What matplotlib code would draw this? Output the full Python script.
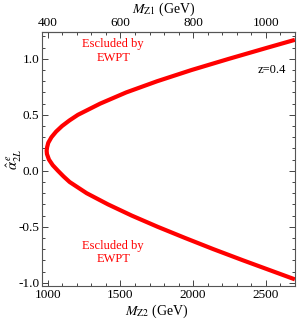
import matplotlib
matplotlib.use("Agg")
import matplotlib.pyplot as plt
from matplotlib.ticker import MultipleLocator, FormatStrFormatter

# data
z = 0.4
alpha_vals = [1.17, 1.10, 1.00, 0.90, 0.80, 0.70, 0.60, 0.50, 0.45, 0.40, 0.35,
              0.30, 0.25, 0.21, 0.18, 0.15, 0.10, 0.05, 0.00, -0.05, -0.10,
              -0.20, -0.30, -0.40, -0.50, -0.60, -0.70, -0.80, -0.90, -0.97]
mz2_vals = [2700, 2511, 2245, 1988, 1752, 1539, 1360, 1207, 1149, 1098, 1057,
            1025, 1003, 995, 992, 994, 1008, 1034, 1070, 1108, 1150,
            1267, 1414, 1577, 1755, 1944, 2139, 2343, 2553, 2700]
ytick_vals = [-1.0, -0.5, 0.0, 0.5, 1.0]
xtick_vals = [1000, 1500, 2000, 2500]
top_tick_vals = [400, 600, 800, 1000]

plt.rcParams['font.family'] = ['Liberation Serif', 'DejaVu Serif']
plt.rcParams['mathtext.fontset'] = 'stix'

fig = plt.figure(figsize=(3.0, 3.2), dpi=100)
ax = fig.add_axes([0.14, 0.106, 0.843, 0.794])

ax.plot(mz2_vals, alpha_vals, color='#ff0000', lw=3.0, solid_capstyle='butt',
        solid_joinstyle='round')

ax.set_xlim(960, 2700)
ax.set_ylim(-1.03, 1.24)
ax.set_xticks(xtick_vals)
ax.set_yticks(ytick_vals)
ax.yaxis.set_major_formatter(FormatStrFormatter('%.1f'))
ax.xaxis.set_minor_locator(MultipleLocator(100))
ax.yaxis.set_minor_locator(MultipleLocator(0.1))
ax.tick_params(which='both', direction='in', top=False, right=True,
               labelsize=9.5, color='#444444', width=0.7)
ax.tick_params(which='major', length=4.5, pad=2)
ax.tick_params(which='minor', length=2.5)
for s in ax.spines.values():
    s.set_color('#555555')
    s.set_linewidth(0.8)

sec = ax.secondary_xaxis('top', functions=(lambda x: x * z, lambda x: x / z))
sec.set_xticks(top_tick_vals)
sec.xaxis.set_minor_locator(MultipleLocator(40))
sec.tick_params(which='both', direction='in', labelsize=9.5, color='#444444', width=0.7, pad=2)
sec.tick_params(which='major', length=4.5)
sec.tick_params(which='minor', length=2.5)
sec.spines['top'].set_color('#555555')
fig.text(164 / 300, 1 - 9 / 320, r'$M_{\mathrm{Z1}}$ (GeV)', fontsize=10,
         ha='center', va='center')

ax.set_xlabel(r'$M_{\mathrm{Z2}}$ (GeV)', fontsize=10)
ax.xaxis.set_label_coords(0.455, -0.066)
ax.set_ylabel(r'$\hat{\alpha}^{\,e}_{2L}$', fontsize=10.5)
ax.yaxis.set_label_coords(-0.07, 0.5)

ax.text(1450, 1.07, 'Escluded by\nEWPT', color='#ff0000', fontsize=9,
        ha='center', va='center', linespacing=1.12)
ax.text(1450, -0.73, 'Escluded by\nEWPT', color='#ff0000', fontsize=9,
        ha='center', va='center', linespacing=1.12)
ax.text(2640, 0.90, 'z=0.4', color='black', fontsize=9, ha='right', va='center')

fig.savefig('out.png', dpi=100)
